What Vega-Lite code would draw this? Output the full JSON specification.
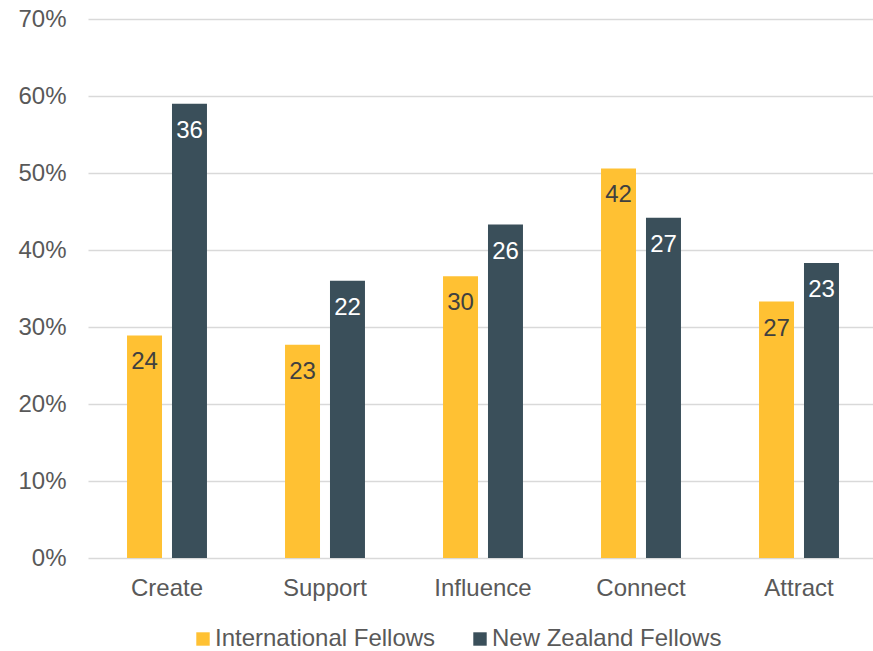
{
  "$schema": "https://vega.github.io/schema/vega-lite/v6.json",
  "width": 790,
  "height": 539,
  "autosize": {"type": "none"},
  "padding": {"left": 88, "top": 19, "right": 0, "bottom": 93},
  "background": "white",
  "config": {
    "view": {"stroke": null},
    "font": "Liberation Sans",
    "axis": {"labelFont": "Liberation Sans", "labelFontSize": 24, "labelColor": "#595959", "ticks": false, "domain": false, "title": null}
  },
  "data": {
    "values": [
      {"category": "Create", "group": "International Fellows", "value": 0.289, "count": 24},
      {"category": "Create", "group": "New Zealand Fellows", "value": 0.590, "count": 36},
      {"category": "Support", "group": "International Fellows", "value": 0.277, "count": 23},
      {"category": "Support", "group": "New Zealand Fellows", "value": 0.360, "count": 22},
      {"category": "Influence", "group": "International Fellows", "value": 0.366, "count": 30},
      {"category": "Influence", "group": "New Zealand Fellows", "value": 0.433, "count": 26},
      {"category": "Connect", "group": "International Fellows", "value": 0.506, "count": 42},
      {"category": "Connect", "group": "New Zealand Fellows", "value": 0.442, "count": 27},
      {"category": "Attract", "group": "International Fellows", "value": 0.333, "count": 27},
      {"category": "Attract", "group": "New Zealand Fellows", "value": 0.383, "count": 23}
    ]
  },
  "encoding": {
    "x": {
      "field": "category", "type": "nominal",
      "sort": ["Create", "Support", "Influence", "Connect", "Attract"],
      "scale": {"paddingInner": 0.494, "paddingOuter": 0.247},
      "axis": {"labelAngle": 0, "labelPadding": 18, "grid": false}
    },
    "xOffset": {
      "field": "group", "type": "nominal",
      "sort": ["International Fellows", "New Zealand Fellows"],
      "scale": {"paddingInner": 0.222, "paddingOuter": 0}
    },
    "y": {
      "field": "value", "type": "quantitative",
      "scale": {"domain": [0, 0.7], "nice": false},
      "axis": {"values": [0, 0.1, 0.2, 0.3, 0.4, 0.5, 0.6, 0.7], "format": ".0%", "labelPadding": 22, "grid": true, "gridColor": "#D9D9D9", "gridWidth": 1.3}
    }
  },
  "layer": [
    {
      "mark": {"type": "bar"},
      "encoding": {
        "color": {
          "field": "group", "type": "nominal",
          "sort": ["International Fellows", "New Zealand Fellows"],
          "scale": {"domain": ["International Fellows", "New Zealand Fellows"], "range": ["#FFC133", "#3A4F5A"]},
          "legend": {
            "title": null, "orient": "none", "direction": "horizontal",
            "legendX": 103, "legendY": 608,
            "symbolType": "square", "symbolSize": 180, "symbolStrokeWidth": 0,
            "labelFont": "Liberation Sans", "labelFontSize": 24, "labelColor": "#595959",
            "labelOffset": 0, "labelLimit": 500, "columnPadding": 32
          }
        }
      }
    },
    {
      "mark": {"type": "text", "baseline": "middle", "dy": 27, "fontSize": 24, "font": "Liberation Sans"},
      "encoding": {
        "text": {"field": "count", "type": "quantitative"},
        "color": {
          "condition": {"test": "datum.group === 'New Zealand Fellows'", "value": "white"},
          "value": "#404040"
        }
      }
    }
  ]
}
